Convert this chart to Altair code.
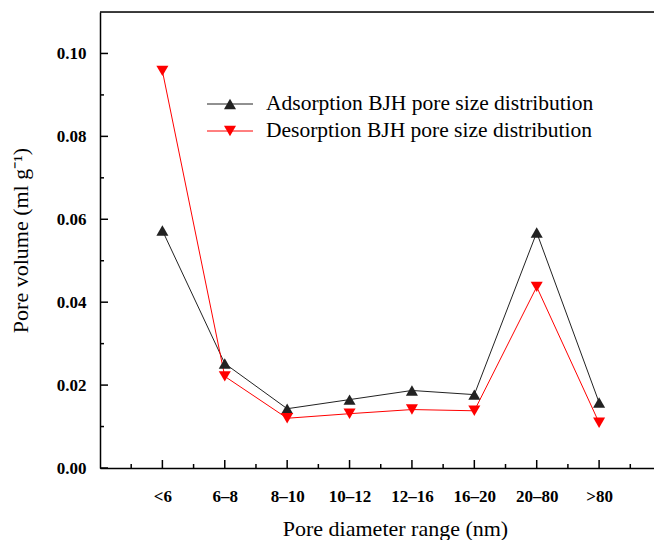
import altair as alt
import pandas as pd

categories = ["<6", "6–8", "8–10", "10–12", "12–16", "16–20", "20–80", ">80"]
adsorption = [0.0573, 0.0252, 0.0143, 0.0165, 0.0187, 0.0177, 0.0568, 0.0158]
desorption = [0.0958, 0.0221, 0.0120, 0.0131, 0.0141, 0.0138, 0.0437, 0.0109]
series_names = ["Adsorption BJH pore size distribution",
                "Desorption BJH pore size distribution"]
series_colors = ["#222222", "#ff0000"]
series_shapes = ["triangle-up", "triangle-down"]

y_major = [0.0, 0.02, 0.04, 0.06, 0.08, 0.10]
y_minor = [0.01, 0.03, 0.05, 0.07, 0.09]
x_major = [1, 2, 3, 4, 5, 6, 7, 8]
x_minor = [0.5, 1.5, 2.5, 3.5, 4.5, 5.5, 6.5, 7.5, 8.5]

W, H = 554, 456
FONT = "Liberation Serif"

rows = []
for name, vals in zip(series_names, [adsorption, desorption]):
    for i, (c, v) in enumerate(zip(categories, vals)):
        rows.append({"pos": i + 1, "cat": c, "value": v, "series": name})
df = pd.DataFrame(rows)

xscale = alt.Scale(domain=[0, 8.88], nice=False, zero=False)
yscale = alt.Scale(domain=[0, 0.11], nice=False, zero=False)

label_arr = "[" + ",".join(["''"] + ["'" + c + "'" for c in categories]) + "]"

xaxis = alt.Axis(values=x_major, labelExpr=label_arr + "[round(datum.value)]",
                 ticks=False, grid=False, domainColor="black", domainWidth=1.5,
                 labelFont=FONT, labelFontWeight="bold", labelFontSize=17,
                 labelColor="black", labelPadding=20, labelAngle=0,
                 title="Pore diameter range (nm)", titleFont=FONT,
                 titleFontSize=22, titleFontWeight="normal", titleColor="black",
                 titleX=295, titleY=50, titleAnchor="middle", titleBaseline="top")
yaxis = alt.Axis(values=y_major, format=".2f", ticks=False, grid=False,
                 domainColor="black", domainWidth=1.5,
                 labelFont=FONT, labelFontWeight="bold", labelFontSize=17,
                 labelColor="black", labelPadding=14,
                 title="Pore volume (ml g⁻¹)", titleFont=FONT, titleFontSize=22,
                 titleFontWeight="normal", titleColor="black", titlePadding=24)

X = alt.X("pos:Q", scale=xscale, axis=xaxis)
Y = alt.Y("value:Q", scale=yscale, axis=yaxis)
color = alt.Color("series:N", scale=alt.Scale(domain=series_names, range=series_colors), legend=None)
shape = alt.Shape("series:N", scale=alt.Scale(domain=series_names, range=series_shapes), legend=None)

lines = alt.Chart(df).mark_line(strokeWidth=1).encode(x=X, y=Y, color=color, detail="series:N")
points = alt.Chart(df).mark_point(filled=True, opacity=1, size=145).encode(x=X, y=Y, color=color, shape=shape)

# tick marks (inward)
ymaj = alt.Chart(pd.DataFrame({"value": y_major})).mark_rule(color="black", strokeWidth=1.5).encode(
    y=Y, x=alt.value(0), x2=alt.value(8))
ymin = alt.Chart(pd.DataFrame({"value": y_minor})).mark_rule(color="black", strokeWidth=1.5).encode(
    y=Y, x=alt.value(0), x2=alt.value(4))
xmaj = alt.Chart(pd.DataFrame({"pos": x_major})).mark_rule(color="black", strokeWidth=1.5).encode(
    x=X, y=alt.value(H), y2=alt.value(H - 8))
xmin = alt.Chart(pd.DataFrame({"pos": x_minor})).mark_rule(color="black", strokeWidth=1.5).encode(
    x=X, y=alt.value(H), y2=alt.value(H - 4))

top_border = alt.Chart(pd.DataFrame({"a": [0]})).mark_rule(color="black", strokeWidth=1.5).encode(
    x=alt.value(0), x2=alt.value(W), y=alt.value(0))

legend_layers = []
legend_rows_y = [92, 119]
for name, col, shp, ly in zip(series_names, series_colors, series_shapes, legend_rows_y):
    ldf = pd.DataFrame({"name": [name]})
    legend_layers.append(alt.Chart(ldf).mark_rule(color=col, strokeWidth=1).encode(
        x=alt.value(107), x2=alt.value(153), y=alt.value(ly)))
    legend_layers.append(alt.Chart(ldf).mark_point(filled=True, opacity=1, size=145, shape=shp, color=col).encode(
        x=alt.value(130), y=alt.value(ly)))
    legend_layers.append(alt.Chart(ldf).mark_text(align="left", baseline="middle", font=FONT,
                                                  fontSize=21.5, color="black").encode(
        x=alt.value(166), y=alt.value(ly), text="name:N"))

chart = alt.layer(lines, points, ymaj, ymin, xmaj, xmin, top_border, *legend_layers).properties(
    width=W, height=H,
    padding={"left": 100, "top": 12, "right": 0, "bottom": 72},
    autosize=alt.AutoSizeParams(type="none"),
).configure_view(stroke=None).configure(background="white")

chart.save("out.html", embed_options={"renderer": "svg", "actions": False})
